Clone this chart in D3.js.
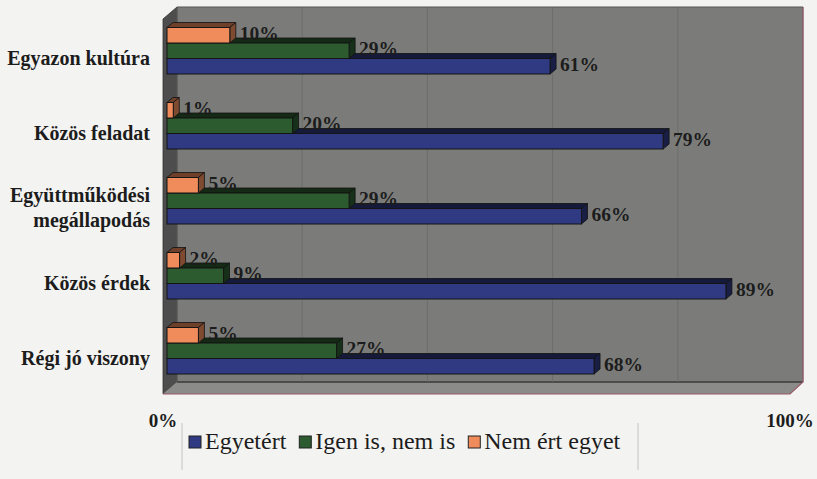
<!DOCTYPE html>
<html>
<head>
<meta charset="utf-8">
<script src="https://cdn.jsdelivr.net/npm/d3@7"></script>
<style>
  html, body { margin: 0; padding: 0; background: #f3f3f1; }
  svg { display: block; }
</style>
</head>
<body>
<svg id="chart" width="817" height="479"></svg>
<script>
// ---- data ----
const categories = ["Egyazon kultúra", "Közös feladat", "Együttműködési megállapodás", "Közös érdek", "Régi jó viszony"];
const categoryLines = [["Egyazon kultúra"], ["Közös feladat"], ["Együttműködési", "megállapodás"], ["Közös érdek"], ["Régi jó viszony"]];
const seriesNames = ["Egyetért", "Igen is, nem is", "Nem ért egyet"];
const egyetert = [61, 79, 66, 89, 68];
const igenIsNemIs = [29, 20, 29, 9, 27];
const nemErtEgyet = [10, 1, 5, 2, 5];
const tickValues = [0, 100];
const tickLabels = ["0%", "100%"];
const gridValues = [0, 20, 40, 60, 80, 100];
const seriesColors = ["#2f3a82", "#2c5b2f", "#f08c5c"];

const seriesValues = [egyetert, igenIsNemIs, nemErtEgyet];

(function () {
const svg = d3.select("#chart");
const FONT = "Liberation Serif";
function serifText(sel) {
  return sel.attr("font-family", FONT);
}

// scales
const x = d3.scaleLinear().domain([0, 100]).range([167, 795]);     // bar plane
const xBack = d3.scaleLinear().domain([0, 100]).range([177, 803]); // back wall
const xFront = d3.scaleLinear().domain([0, 100]).range([163, 790]); // floor front edge
const y = d3.scaleBand().domain(categories).range([7, 382]);
const ySub = d3.scaleBand().domain([seriesNames[2], seriesNames[1], seriesNames[0]]).range([20.5, 67]);
const dx = 6, dy = -5;

// walls
const yTop = y.range()[0], yBot = y.range()[1];
svg.append("polygon")
  .attr("points", [[xBack(0), yTop], [xBack(100), yTop], [xBack(100), yBot], [xBack(0), yBot]].join(" "))
  .attr("fill", "#7b7c7a");
svg.append("polygon")
  .attr("points", [[xFront(0), yTop + 12], [xBack(0), yTop], [xBack(0), yBot], [xFront(0), yBot + 12]].join(" "))
  .attr("fill", "#4c4d4c").attr("stroke", "#333").attr("stroke-width", 0.8);
svg.append("polygon")
  .attr("points", [[xFront(0), yBot + 12], [xBack(0), yBot], [xBack(100), yBot], [xFront(100), yBot + 12]].join(" "))
  .attr("fill", "#8b8c8a");
svg.append("line")
  .attr("x1", xBack(0)).attr("x2", xBack(100)).attr("y1", yBot).attr("y2", yBot)
  .attr("stroke", "#3a3a3a").attr("stroke-width", 1.5);
// gridlines on the back wall
svg.append("g").selectAll("line").data(gridValues).join("line")
  .attr("x1", d => xBack(d)).attr("x2", d => xBack(d))
  .attr("y1", yTop).attr("y2", yBot)
  .attr("stroke", "#686a68").attr("stroke-width", 0.8);
// frame outline (pinkish scan edge)
svg.append("polyline")
  .attr("points", [[xBack(100), yTop], [xBack(100), yBot], [xFront(100), yBot + 12], [xFront(0), yBot + 12]].join(" "))
  .attr("fill", "none").attr("stroke", "#9a5a68").attr("stroke-width", 1.2);
svg.append("line")
  .attr("x1", xBack(0)).attr("x2", xBack(100)).attr("y1", yTop).attr("y2", yTop)
  .attr("stroke", "#555").attr("stroke-width", 1);

// bars
const barsG = svg.append("g");
categories.forEach((cat, ci) => {
  seriesNames.forEach((s, si) => {
    const v = seriesValues[si][ci];
    const x0 = x(0), x1 = x(v);
    const by = y(cat) + ySub(s);
    const h = ySub.bandwidth();
    const c = seriesColors[si];
    const g = barsG.append("g");
    g.append("polygon")
      .attr("points", [[x0, by], [x0 + dx, by + dy], [x1 + dx, by + dy], [x1, by]].join(" "))
      .attr("fill", d3.color(c).darker(2.2)).attr("stroke", "#111").attr("stroke-width", 0.8);
    g.append("polygon")
      .attr("points", [[x1, by], [x1 + dx, by + dy], [x1 + dx, by + h + dy], [x1, by + h]].join(" "))
      .attr("fill", d3.color(c).darker(1.8)).attr("stroke", "#111").attr("stroke-width", 0.8);
    g.append("rect")
      .attr("x", x0).attr("y", by).attr("width", x1 - x0).attr("height", h)
      .attr("fill", c).attr("stroke", "#151515").attr("stroke-width", 1);
  });
});
// value labels
categories.forEach((cat, ci) => {
  seriesNames.forEach((s, si) => {
    const v = seriesValues[si][ci];
    serifText(svg.append("text"))
      .attr("x", x(v) + dx + 4)
      .attr("y", y(cat) + ySub(s) + ySub.bandwidth() / 2 - 2)
      .attr("dominant-baseline", "central")
      .attr("font-weight", "bold").attr("font-size", 19.5)
      .attr("fill", "#1c1c1c")
      .text(v + "%");
  });
});

// category labels
categories.forEach((cat, ci) => {
  const lines = categoryLines[ci];
  const yc = y(cat) + (ySub.range()[0] + ySub.range()[1]) / 2 + 7;
  const t = serifText(svg.append("text"))
    .attr("text-anchor", "end")
    .attr("font-weight", "bold").attr("font-size", 20)
    .attr("fill", "#1c1c1c");
  lines.forEach((ln, li) => {
    t.append("tspan")
      .attr("x", 150)
      .attr("y", yc + (li - (lines.length - 1) / 2) * 25)
      .attr("dominant-baseline", "central")
      .text(ln);
  });
});

// axis tick labels
serifText(svg.append("g").selectAll("text").data(tickValues).join("text"))
  .attr("x", d => xFront(d))
  .attr("y", 427)
  .attr("text-anchor", "middle")
  .attr("font-weight", "bold").attr("font-size", 19)
  .attr("fill", "#1c1c1c")
  .text((d, i) => tickLabels[i]);

// legend
const legend = svg.append("g");
legend.append("line").attr("x1", 182).attr("x2", 182).attr("y1", 423).attr("y2", 470).attr("stroke", "#c4c4c4");
legend.append("line").attr("x1", 638).attr("x2", 638).attr("y1", 423).attr("y2", 470).attr("stroke", "#c4c4c4");
let lx = 189;
seriesNames.forEach((s, si) => {
  legend.append("rect")
    .attr("x", lx).attr("y", 436).attr("width", 12).attr("height", 12)
    .attr("fill", seriesColors[si]).attr("stroke", "#222").attr("stroke-width", 1);
  const t = serifText(legend.append("text"))
    .attr("x", lx + 16).attr("y", 449)
    .attr("font-size", 24)
    .attr("fill", "#1c1c1c")
    .text(s);
  lx = lx + 16 + t.node().getComputedTextLength() + 13;
});
})();
</script>
</body>
</html>
